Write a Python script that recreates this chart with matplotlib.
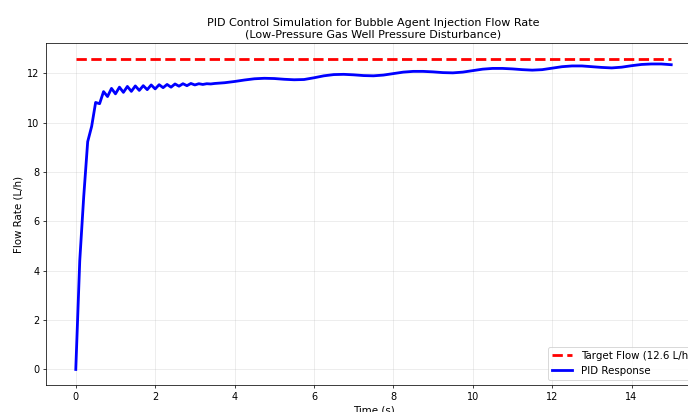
import numpy as np
import matplotlib
matplotlib.use("Agg")
import matplotlib.pyplot as plt

# Early (oscillating) part, sampled every 0.1 s
t_early = [0.0, 0.1, 0.2, 0.3, 0.4, 0.5, 0.6, 0.7, 0.8, 0.9,
           1.0, 1.1, 1.2, 1.3, 1.4, 1.5, 1.6, 1.7, 1.8, 1.9,
           2.0, 2.1, 2.2, 2.3, 2.4, 2.5, 2.6, 2.7, 2.8, 2.9,
           3.0, 3.1, 3.2, 3.3, 3.4]
v_early = [0.0, 4.4, 7.0, 9.23, 9.85, 10.82, 10.77, 11.26, 11.06, 11.39,
           11.17, 11.44, 11.23, 11.47, 11.27, 11.49, 11.31, 11.50, 11.34, 11.53,
           11.37, 11.54, 11.42, 11.55, 11.44, 11.57, 11.48, 11.58, 11.50, 11.59,
           11.53, 11.58, 11.55, 11.58, 11.57]

# Later (slow wave) part, sampled every 0.25 s
t_late = [3.5, 3.75, 4.0, 4.25, 4.5, 4.75, 5.0, 5.25, 5.5, 5.75,
          6.0, 6.25, 6.5, 6.75, 7.0, 7.25, 7.5, 7.75, 8.0, 8.25,
          8.5, 8.75, 9.0, 9.25, 9.5, 9.75, 10.0, 10.25, 10.5, 10.75,
          11.0, 11.25, 11.5, 11.75, 12.0, 12.25, 12.5, 12.75, 13.0, 13.25,
          13.5, 13.75, 14.0, 14.25, 14.5, 14.75, 15.0]
v_late = [11.59, 11.62, 11.67, 11.73, 11.78, 11.80, 11.79, 11.76, 11.74, 11.75,
          11.82, 11.90, 11.95, 11.96, 11.94, 11.91, 11.90, 11.93, 11.99, 12.05,
          12.08, 12.08, 12.06, 12.03, 12.02, 12.05, 12.11, 12.17, 12.20, 12.20,
          12.18, 12.15, 12.13, 12.15, 12.21, 12.27, 12.30, 12.30, 12.27, 12.24,
          12.22, 12.25, 12.31, 12.36, 12.38, 12.38, 12.35]

target = 12.6
t_target = [0.0, 15.0]

time = t_early + t_late
flow = v_early + v_late

DPI = 67
W, H = 688, 412
fig = plt.figure(figsize=(W / DPI, H / DPI), dpi=DPI)
left, right, top, bottom = 46, 701, 43, 385
ax = fig.add_axes([left / W, 1 - bottom / H, (right - left) / W, (bottom - top) / H])

ax.plot(t_target, [target, target], 'r--', linewidth=3, label='Target Flow (12.6 L/h)')
ax.plot(time, flow, 'b-', linewidth=3, label='PID Response')

ax.set_xlim(-0.75, 15.75)
ax.set_ylim(-0.63, 13.23)
ax.set_xticks([0, 2, 4, 6, 8, 10, 12, 14])
ax.set_yticks([0, 2, 4, 6, 8, 10, 12])
ax.tick_params(labelsize=10.5)
ax.grid(True, alpha=0.3)
ax.set_xlabel('Time (s)', fontsize=11)
ax.set_ylabel('Flow Rate (L/h)', fontsize=11)
ax.set_title('PID Control Simulation for Bubble Agent Injection Flow Rate\n(Low-Pressure Gas Well Pressure Disturbance)',
             fontsize=12)
ax.legend(loc='lower right', fontsize=11)

fig.savefig('out.png', dpi=DPI)
